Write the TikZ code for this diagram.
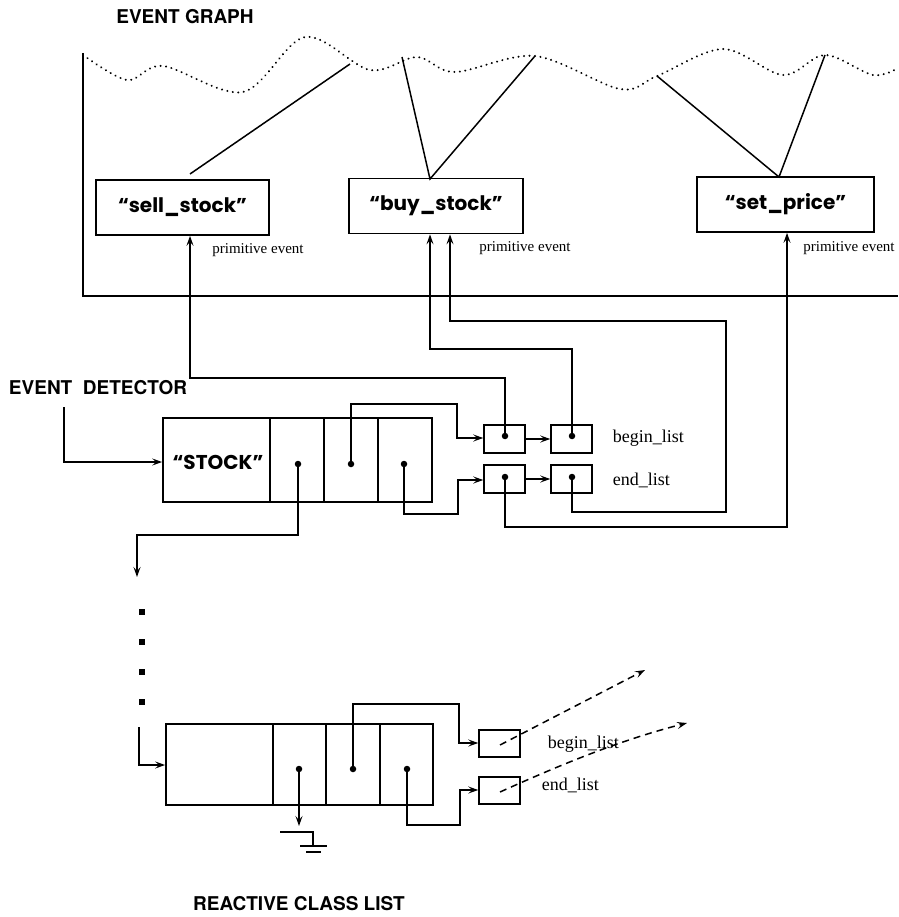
\documentclass[tikz,border=0pt]{standalone}
\usepackage{fontspec}
\setmainfont{Liberation Serif}
\newfontfamily\headfont{TeX Gyre Heros}
\newfontfamily\geofont{Poppins}
\usetikzlibrary{arrows.meta,calc}
\begin{document}
\begin{tikzpicture}[x=1pt,y=-1pt,line width=1.5pt,
  arr/.style={-{Stealth[length=10pt,width=7pt,inset=4pt]}},
  evbox/.style={draw,line width=1.7pt,minimum height=55pt,inner sep=0pt,
     font=\geofont\bfseries\fontsize{20}{22}\selectfont},
  smallbox/.style={draw,line width=1.5pt,minimum width=41pt,minimum height=28pt,inner sep=0pt},
  head/.style={font=\headfont\bfseries\fontsize{19}{21}\selectfont,inner sep=0pt},
  prim/.style={font=\fontsize{15}{16}\selectfont,inner sep=0pt},
  lab/.style={font=\fontsize{18}{20}\selectfont,inner sep=0pt,anchor=west},
  dotc/.style={circle,fill,inner sep=0pt,minimum size=6.5pt},
  sq/.style={fill,inner sep=0pt,minimum size=6pt},
  wave/.style={line width=2.2pt,dash pattern=on 0.01pt off 5.5pt,line cap=round}]
\useasboundingbox (0,0) rectangle (898,917);

% ---------- EVENT GRAPH ----------
\node[head] (egtitle) at (185,17) {EVENT GRAPH};
\draw (83,53) coordinate (frtop) -- (83,296) coordinate (frcorner) -- (898,296) coordinate (frright);
\draw[wave] plot[smooth,tension=0.55] coordinates {(83,55) (127,80) (163,66) (243,92) (305,37) (370,70) (417,57) (455,72) (535,56) (620,89) (657,76) (723,49) (783,75) (825,55) (873,75) (898,68)};

\node[evbox,minimum width=173pt] (sell) at (182.5,207.5) {“sell\_stock”};
\node[evbox,minimum width=174pt] (buy) at (436,206) {“buy\_stock”};
\node[evbox,minimum width=177pt] (setp) at (785.5,204.5) {“set\_price”\hspace{28pt}};

\coordinate (w1) at (350,64);
\coordinate (w2) at (402,57);
\coordinate (w3) at (535,56);
\coordinate (w4) at (657,76);
\coordinate (w5) at (825,55);
\coordinate (sellTop) at (190,174);
\coordinate (buyTop) at (430,179);
\coordinate (setTop) at (779,177);
\draw (sellTop) -- (w1);
\draw (w2) -- (buyTop) -- (w3);
\draw (w4) -- (setTop) -- (w5);

\node[prim] (pe1) at (258,250) {primitive event};
\node[prim] (pe2) at (525,248) {primitive event};
\node[prim] (pe3) at (849,248) {primitive event};

% ---------- EVENT DETECTOR ----------
\node[head] (edtitle) at (98,388) {EVENT\ \ DETECTOR};
\node[draw,line width=1.7pt,minimum width=269pt,minimum height=84pt,inner sep=0pt] (stock) at (297.5,460) {};
\draw (270,418) -- (270,502) (324,418) -- (324,502) (378,418) -- (378,502);
\node[font=\geofont\bfseries\fontsize{20}{22}\selectfont,inner sep=0pt] (stocktxt) at (218,462) {“STOCK”};
\node[dotc] (sa) at (298,464) {};
\node[dotc] (sb) at (351,464) {};
\node[dotc] (sc) at (404,464) {};
\coordinate (edin) at (64,407);
\draw[arr] (edin) -- (64,462) -- (stock.west |- 0,462);

\node[smallbox] (bl1) at (504.5,439) {};
\node[smallbox] (bl2) at (571.5,439) {};
\node[smallbox] (el1) at (504.5,479) {};
\node[smallbox] (el2) at (571.5,479) {};
\node[dotc] (bl1d) at (505,436) {};
\node[dotc] (bl2d) at (572,436) {};
\node[dotc] (el1d) at (505,477) {};
\node[dotc] (el2d) at (572,477) {};
\node[lab] (bltxt) at (612,438) {begin\_list};
\node[lab] (eltxt) at (612,480) {end\_list};

\draw[arr] (bl1.east) -- (bl2.west);
\draw[arr] (el1.east) -- (el2.west);
\draw[arr] (sb.center) -- (351,404) -- (457,404) -- (457,438) -- (bl1.west |- 0,438);
\draw[arr] (sc.center) -- (404,514) -- (458,514) -- (458,480) -- (el1.west |- 0,480);

% arrows up to the primitive events
\draw[arr] (bl1d.center) -- (505,378) -- (190,378) -- (sell.south -| 190,0);
\draw[arr] (bl2d.center) -- (572,349) -- (430,349) -- (buy.south -| 430,0);
\draw[arr] (el2d.center) -- (572,512) -- (726,512) -- (726,321) -- (450,321) -- (buy.south -| 450,0);
\draw[arr] (el1d.center) -- (505,527) -- (787,527) -- (setp.south -| 787,0);

% ---------- chain to reactive class list ----------
\coordinate (chainTip) at (137,577);
\draw[arr] (sa.center) -- (298,535) -- (137,535) -- (chainTip);
\node[sq] (v1) at (142,612) {};
\node[sq] (v2) at (142,642) {};
\node[sq] (v3) at (142,672) {};
\node[sq] (v4) at (142,702) {};

\node[draw,line width=1.7pt,minimum width=267pt,minimum height=81pt,inner sep=0pt] (rbox) at (299.5,764.5) {};
\draw (273,724) -- (273,805) (326,724) -- (326,805) (380,724) -- (380,805);
\coordinate (rin) at (139,727);
\draw[arr] (rin) -- (139,765) -- (rbox.west |- 0,765);
\node[dotc] (ra) at (299,769) {};
\node[dotc] (rb) at (353,769) {};
\node[dotc] (rc) at (407,769) {};
\coordinate (gnd) at (299,826);
\draw[arr] (ra.center) -- (gnd);
\draw (280,832) -- (313,832) -- (313,846) (300,846) -- (327,846) (306,852) -- (321,852);

\node[smallbox,minimum height=27pt] (lb1) at (499.5,743.5) {};
\node[smallbox,minimum height=27pt] (le1) at (499.5,790.5) {};
\draw[arr] (rb.center) -- (353,704) -- (459,704) -- (459,743) -- (lb1.west |- 0,743);
\draw[arr] (rc.center) -- (407,825) -- (460,825) -- (460,790) -- (le1.west |- 0,790);
\node[lab] (lbtxt) at (547,744) {begin\_list};
\node[lab] (letxt) at (541,785) {end\_list};
\coordinate (d1end) at (645,670);
\coordinate (d2end) at (687,723);
\draw[arr,dash pattern=on 7pt off 5pt] (500,745) -- (d1end);
\draw[arr,dash pattern=on 7pt off 5pt] (500,792) .. controls (560,765) and (620,740) .. (d2end);

\node[head] (rctitle) at (299,904) {REACTIVE CLASS LIST};
\end{tikzpicture}
\end{document}
